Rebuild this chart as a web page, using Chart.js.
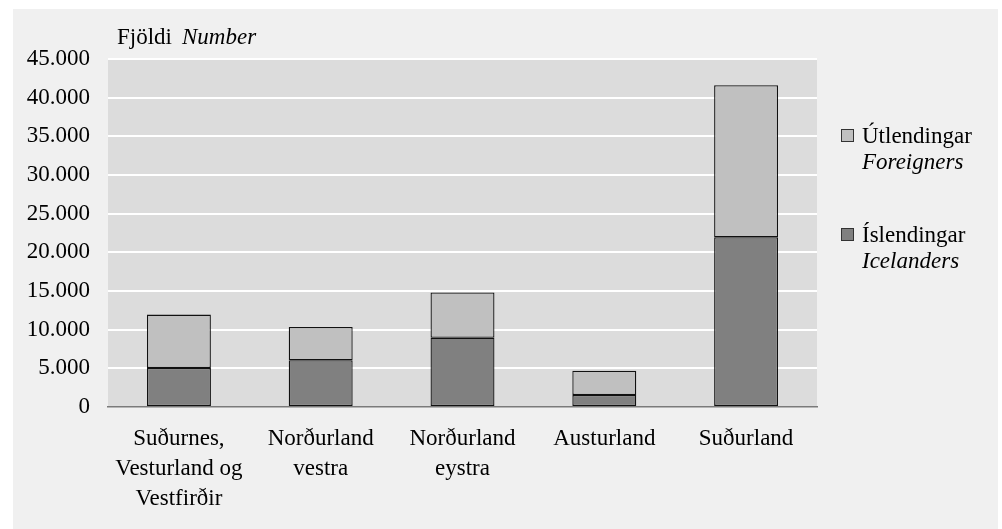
<!DOCTYPE html>
<html>
<head>
<meta charset="utf-8">
<script src="https://cdn.jsdelivr.net/npm/chart.js@4.4.1/dist/chart.umd.min.js"></script>
<style>
  html, body { margin: 0; padding: 0; background: #ffffff; }
  #wrap { position: relative; width: 1002px; height: 529px; }
</style>
</head>
<body>
<div id="wrap"><canvas id="c" width="1002" height="529"></canvas></div>
<script>
const categories = [
  ["Suðurnes,", "Vesturland og", "Vestfirðir"],
  ["Norðurland", "vestra"],
  ["Norðurland", "eystra"],
  ["Austurland"],
  ["Suðurland"]
];
const icelanders = [5050, 6050, 8950, 1550, 21950];
const foreigners = [6900, 4300, 5850, 3150, 19650];
const yTicks = [0, 5000, 10000, 15000, 20000, 25000, 30000, 35000, 40000, 45000];
const seriesNames = [
  ["Útlendingar", "Foreigners"],
  ["Íslendingar", "Icelanders"]
];
const axisTitle = ["Fjöldi", "Number"];

const FONT = "'Liberation Serif', 'Times New Roman', serif";
const FS = 23;
const COL_ICE = "#808080";
const COL_FOR = "#c0c0c0";

function fmt(v) {
  return String(v).replace(/\B(?=(\d{3})+(?!\d))/g, ".");
}

const decor = {
  id: "decor",
  beforeDraw(chart) {
    const ctx = chart.ctx;
    const a = chart.chartArea;
    ctx.save();
    ctx.fillStyle = "#ffffff";
    ctx.fillRect(0, 0, chart.width, chart.height);
    ctx.fillStyle = "#f0f0f0";
    ctx.fillRect(13, 9, 985, 520);
    ctx.fillStyle = "#dcdcdc";
    ctx.fillRect(a.left, a.top, a.right - a.left, a.bottom - a.top);
    ctx.restore();
  },
  afterDraw(chart) {
    const ctx = chart.ctx;
    ctx.save();
    ctx.fillStyle = "#000";
    ctx.textBaseline = "alphabetic";
    ctx.textAlign = "left";
    ctx.font = FS + "px " + FONT;
    ctx.fillText(axisTitle[0], 117, 44);
    ctx.font = "italic " + FS + "px " + FONT;
    ctx.fillText(axisTitle[1], 182, 44);

    const legendItems = [
      { color: COL_FOR, names: seriesNames[0], y: 129 },
      { color: COL_ICE, names: seriesNames[1], y: 228 }
    ];
    legendItems.forEach(it => {
      ctx.fillStyle = it.color;
      ctx.fillRect(841, it.y, 13, 13);
      ctx.strokeStyle = "#333";
      ctx.lineWidth = 1;
      ctx.strokeRect(841.5, it.y + 0.5, 12, 12);
      ctx.fillStyle = "#000";
      ctx.font = FS + "px " + FONT;
      ctx.fillText(it.names[0], 862, it.y + 13.5);
      ctx.font = "italic " + FS + "px " + FONT;
      ctx.fillText(it.names[1], 862, it.y + 40);
    });
    ctx.restore();
  }
};

new Chart(document.getElementById("c"), {
  type: "bar",
  data: {
    labels: categories,
    datasets: [
      {
        label: seriesNames[1].join(" "),
        data: icelanders,
        backgroundColor: COL_ICE,
        borderColor: "#111",
        borderWidth: 1.3,
        borderSkipped: false,
        categoryPercentage: 1,
        barPercentage: 0.451
      },
      {
        label: seriesNames[0].join(" "),
        data: foreigners,
        backgroundColor: COL_FOR,
        borderColor: "#111",
        borderWidth: 1.3,
        borderSkipped: false,
        categoryPercentage: 1,
        barPercentage: 0.451
      }
    ]
  },
  options: {
    responsive: false,
    animation: false,
    devicePixelRatio: 1,
    layout: { padding: { left: 0, top: 59, right: 185, bottom: 0 } },
    plugins: {
      legend: { display: false },
      tooltip: { enabled: false },
      title: { display: false }
    },
    scales: {
      x: {
        stacked: true,
        grid: { display: false, drawTicks: false },
        border: { display: true, color: "#7a7a7a", width: 1.5 },
        ticks: {
          color: "#000",
          font: { family: FONT, size: FS, lineHeight: 30 / FS },
          padding: 17,
          maxRotation: 0,
          autoSkip: false
        },
        afterFit(s) { s.height = 122; }
      },
      y: {
        stacked: true,
        min: 0,
        max: 45000,
        afterBuildTicks(s) { s.ticks = yTicks.map(v => ({ value: v })); },
        grid: {
          drawTicks: false,
          lineWidth: 2,
          color: ctx => (ctx.tick && ctx.tick.value === 0) ? "rgba(0,0,0,0)" : "#ffffff"
        },
        border: { display: false },
        ticks: {
          color: "#000",
          font: { family: FONT, size: FS },
          padding: 18,
          callback: v => fmt(v)
        },
        afterFit(s) { s.width = 108; }
      }
    }
  },
  plugins: [decor]
});
</script>
</body>
</html>
